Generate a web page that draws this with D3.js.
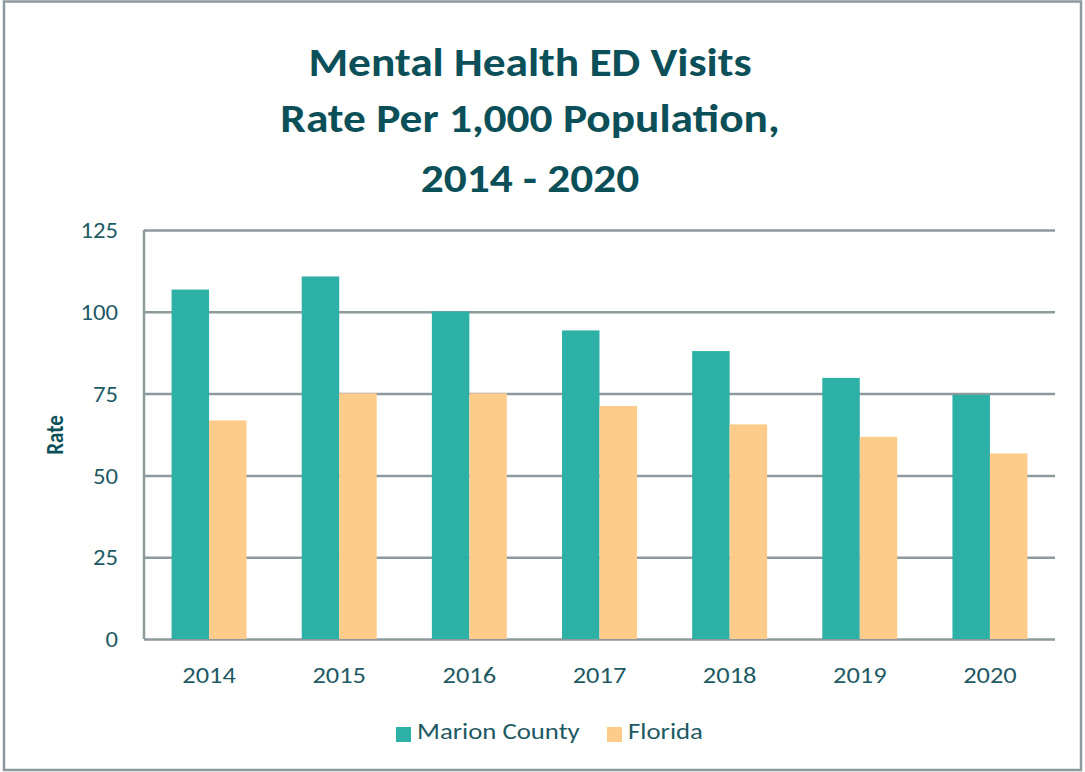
<!DOCTYPE html>
<html>
<head>
<meta charset="utf-8">
<script src="https://cdn.jsdelivr.net/npm/d3@7"></script>
<style>
  body { margin: 0; background: #fff; }
  text { font-family: Carlito, Calibri, Lato, "Open Sans", sans-serif; }
</style>
</head>
<body>
<div id="chart"></div>
<script>
var years = ["2014", "2015", "2016", "2017", "2018", "2019", "2020"];
var seriesNames = ["Marion County", "Florida"];
var marionCounty = [106.8, 110.8, 100.1, 94.3, 88.0, 79.8, 74.6];
var florida = [66.8, 75.1, 75.1, 71.2, 65.6, 61.8, 56.7];
var yTicks = [0, 25, 50, 75, 100, 125];
var titleLines = ["Mental Health ED Visits", "Rate Per 1,000 Population,", "2014 - 2020"];

var colors = ["#2DB0A5", "#FECC8A"];
var gridColor = "#8C9A9E";
var textColor = "#1E5A64";
var titleColor = "#0B4F58";

// the picture is a bit wider than tall, so text gets a horizontal stretch
var stretchX = 1.15;

var svgWidth = 1085;
var svgHeight = 772;

var margin = { top: 230, right: 30, bottom: 133, left: 144 };
var width = 1055 - margin.left;
var height = 639 - margin.top;

var svg = d3.select("#chart")
  .append("svg")
  .attr("width", svgWidth)
  .attr("height", svgHeight);

// outer frame
svg.append("rect")
  .attr("x", 4)
  .attr("y", 1.5)
  .attr("width", 1077)
  .attr("height", 768.5)
  .attr("fill", "#fff")
  .attr("stroke", gridColor)
  .attr("stroke-width", 2.5);

// title
var titleY = [76, 132, 192];
svg.append("g")
  .selectAll("text")
  .data(titleLines)
  .enter()
  .append("text")
  .attr("transform", (d, i) => `translate(530, ${titleY[i]}) scale(${stretchX}, 1)`)
  .attr("text-anchor", "middle")
  .attr("font-size", "39.5px")
  .attr("font-weight", "bold")
  .attr("fill", titleColor)
  .text(d => d);

var chartGroup = svg.append("g")
  .attr("transform", `translate(${margin.left}, ${margin.top})`);

var xScale = d3.scaleBand()
  .domain(years)
  .range([0, width])
  .paddingInner(0.424)
  .paddingOuter(0.212);

var xSub = d3.scaleBand()
  .domain(seriesNames)
  .range([0, xScale.bandwidth()]);

var yScale = d3.scaleLinear()
  .domain([0, 125])
  .range([height, 0]);

// gridlines + y labels
var yAxis = d3.axisLeft(yScale)
  .tickValues(yTicks)
  .tickSize(-width)
  .tickPadding(26 / stretchX);

var yAxisGroup = chartGroup.append("g").call(yAxis);
yAxisGroup.select(".domain").remove();
yAxisGroup.selectAll(".tick line")
  .attr("stroke", gridColor)
  .attr("stroke-width", 2.5);
yAxisGroup.selectAll(".tick text")
  .attr("font-size", "21.5px")
  .attr("fill", textColor)
  .attr("dy", "0.36em")
  .attr("transform", `scale(${stretchX}, 1)`);

// left axis line
chartGroup.append("line")
  .attr("x1", 0)
  .attr("x2", 0)
  .attr("y1", 0)
  .attr("y2", height)
  .attr("stroke", gridColor)
  .attr("stroke-width", 2.5);

// bars
var data = years.map((y, i) => ({ year: y, values: [marionCounty[i], florida[i]] }));

var groups = chartGroup.selectAll(".yearGroup")
  .data(data)
  .enter()
  .append("g")
  .attr("class", "yearGroup")
  .attr("transform", d => `translate(${xScale(d.year)}, 0)`);

groups.selectAll("rect")
  .data(d => d.values.map((v, i) => ({ name: seriesNames[i], value: v, idx: i })))
  .enter()
  .append("rect")
  .attr("x", d => xSub(d.name))
  .attr("y", d => yScale(d.value))
  .attr("width", xSub.bandwidth())
  .attr("height", d => height - yScale(d.value))
  .attr("fill", d => colors[d.idx]);

// x axis labels
var xAxis = d3.axisBottom(xScale).tickSize(0).tickPadding(28);
var xAxisGroup = chartGroup.append("g")
  .attr("transform", `translate(0, ${height})`)
  .call(xAxis);
xAxisGroup.select(".domain").remove();
xAxisGroup.selectAll(".tick text")
  .attr("font-size", "23px")
  .attr("fill", textColor)
  .attr("transform", `scale(${stretchX}, 1)`);

// y axis title
svg.append("text")
  .attr("transform", "translate(63, 435) rotate(-90) scale(1, 1.1)")
  .attr("text-anchor", "middle")
  .attr("font-size", "21px")
  .attr("font-weight", "bold")
  .attr("fill", titleColor)
  .text("Rate");

// legend
var legendItems = [
  { box: 396, text: 417 },
  { box: 607, text: 628 }
];

var legend = svg.append("g");
seriesNames.forEach(function(name, i) {
  legend.append("rect")
    .attr("x", legendItems[i].box)
    .attr("y", 727)
    .attr("width", 15)
    .attr("height", 15)
    .attr("fill", colors[i]);
  legend.append("text")
    .attr("transform", `translate(${legendItems[i].text}, 739) scale(${stretchX + 0.04}, 1)`)
    .attr("font-size", "22.5px")
    .attr("fill", textColor)
    .text(name);
});
</script>
</body>
</html>
